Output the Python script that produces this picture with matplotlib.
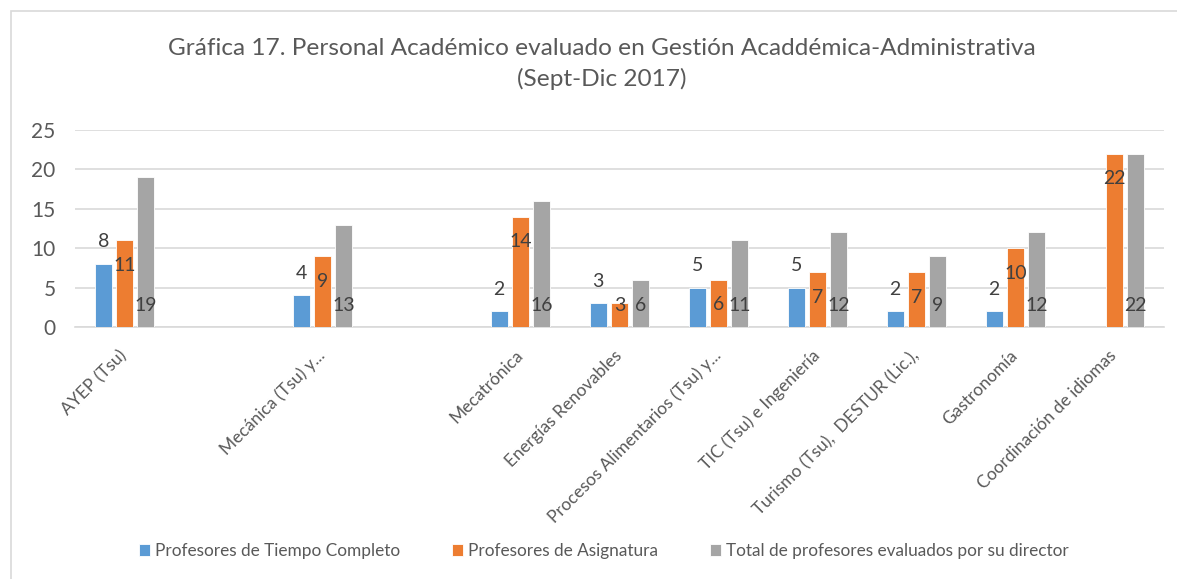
import matplotlib
matplotlib.use("Agg")
import matplotlib.pyplot as plt
import numpy as np
from matplotlib.patches import Rectangle
from matplotlib.transforms import ScaledTranslation

plt.rcParams['font.family'] = ['Lato', 'DejaVu Sans']

categories = ["AYEP (Tsu)", "", "Mecánica (Tsu) y...", "", "Mecatrónica",
              "Energías Renovables", "Procesos Alimentarios (Tsu) y...",
              "TIC (Tsu) e Ingeniería", "Turismo (Tsu),  DESTUR (Lic.),",
              "Gastronomía", "Coordinación de idiomas"]
tiempo_completo = [8, np.nan, 4, np.nan, 2, 3, 5, 5, 2, 2, np.nan]
asignatura = [11, np.nan, 9, np.nan, 14, 3, 6, 7, 7, 10, 22]
total = [19, np.nan, 13, np.nan, 16, 6, 11, 12, 9, 12, 22]
series_names = ["Profesores de Tiempo Completo", "Profesores de Asignatura",
                "Total de profesores evaluados por su director"]
colors = ["#5B9BD5", "#ED7D31", "#A5A5A5"]
title = "Gráfica 17. Personal Académico evaluado en Gestión Acaddémica-Administrativa\n(Sept-Dic 2017)"

W, H = 1177, 579
fig = plt.figure(figsize=(W / 100, H / 100), dpi=100)
txt = "#595959"

# outer border
fig.patches.append(Rectangle((11 / W, -0.1), 1.2, (H - 11) / H + 0.1, transform=fig.transFigure,
                             fill=False, edgecolor="#D9D9D9", lw=1.2))

ax = fig.add_axes([75 / W, (H - 327) / H, (1164 - 75) / W, (327 - 130) / H])
x = np.arange(len(categories))
w = 0.17
step = 0.215
for i, (vals, c, name) in enumerate(zip([tiempo_completo, asignatura, total], colors, series_names)):
    xs = x + (i - 1) * step
    ax.bar(xs, vals, width=w, color=c, edgecolor="white", linewidth=0.6, label=name, zorder=3)
    for xi, v in zip(xs, vals):
        if np.isnan(v):
            continue
        if i == 0:
            y = v + 2.8
        elif i == 1:
            y = max(v - 3.2, 2.7)
        else:
            y = 2.7
        ax.text(xi, y, f"{int(v)}", ha="center", va="center", fontsize=14, color="#404040", zorder=4)

ax.set_xlim(-0.5, len(categories) - 0.5)
ax.set_ylim(0, 25)
ax.set_yticks(range(0, 26, 5))
ax.grid(axis="y", color="#D9D9D9", lw=1.2, zorder=0)
for s in ["top", "right", "left"]:
    ax.spines[s].set_visible(False)
ax.spines["bottom"].set_color("#D9D9D9")
ax.spines["bottom"].set_linewidth(1.2)
ax.tick_params(axis="both", length=0, colors=txt)
ax.tick_params(axis="y", pad=14, labelsize=15)
ax.set_xticks(x)
ax.set_xticklabels(categories, rotation=45, ha="right", rotation_mode="anchor", fontsize=12.5)
ax.tick_params(axis="x", pad=8)
off = ScaledTranslation(-6 / 100, -9 / 100, fig.dpi_scale_trans)
for lbl in ax.get_xticklabels():
    lbl.set_transform(lbl.get_transform() + off)

fig.text(602 / W, (H - 64) / H, title, ha="center", va="center", fontsize=17.6, color=txt,
         linespacing=1.45, multialignment="center")

leg = fig.legend(loc="center", bbox_to_anchor=(604 / W, (H - 551) / H), ncol=3, frameon=False,
                 fontsize=12.4, handlelength=0.65, handleheight=0.65, handletextpad=0.3,
                 columnspacing=3.0, labelcolor=txt)

fig.savefig("out.png", dpi=100)
